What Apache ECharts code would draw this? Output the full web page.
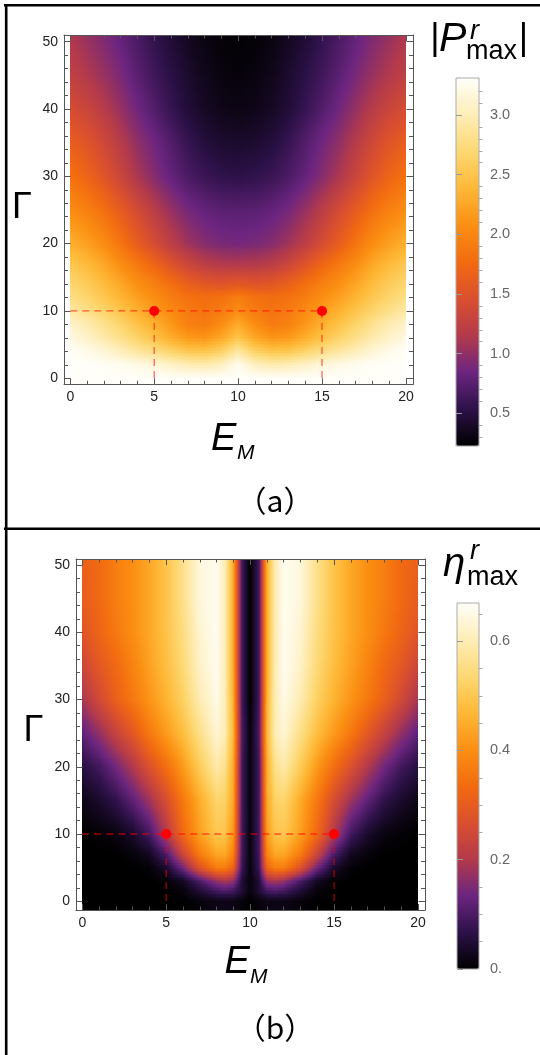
<!DOCTYPE html>
<html><head><meta charset="utf-8">
<script src="https://cdn.jsdelivr.net/npm/echarts@6/dist/echarts.min.js"></script>
<style>html,body{margin:0;padding:0;background:#fff}#c{width:540px;height:1055px}</style>
</head><body><div id="c"></div>
<script>
// ---------------- data ----------------
const xTickValues = [0, 5, 10, 15, 20];
const xMinorTicks = [1,2,3,4,6,7,8,9,11,12,13,14,16,17,18,19];
const yTickValues = [0, 10, 20, 30, 40, 50];
const yMinorTicks = [2,4,6,8,12,14,16,18,22,24,26,28,32,34,36,38,42,44,46,48];
const markedPoints = [[5, 10], [15, 10]];
const guideH = [[0, 10], [15, 10]];
const guideV1 = [[5, 10], [5, 0]];
const guideV2 = [[15, 10], [15, 0]];

// panel (a): |P^r_max|
const aColumns = [0,1,2,3,4,5,6,7,8,9,10,11,12,13,14,15,16,17,18,19,20];
const aRows = [0,2,4,6,8,10,12,14,17,20,25,30,35,40,45,50];
const aValues = [
 [3.30,3.30,3.30,3.30,3.30,3.30,3.30,3.30,3.30,3.30,3.30,3.30,3.30,3.30,3.30,3.30,3.30,3.30,3.30,3.30,3.30],
 [3.31,3.30,3.29,3.26,3.22,3.16,3.08,3.00,2.97,3.05,3.25,3.05,2.97,3.00,3.08,3.16,3.22,3.26,3.29,3.30,3.31],
 [3.29,3.24,3.14,3.02,2.90,2.78,2.65,2.52,2.50,2.62,2.90,2.62,2.50,2.52,2.65,2.78,2.90,3.02,3.14,3.24,3.29],
 [3.20,3.08,2.95,2.80,2.64,2.48,2.30,2.15,2.12,2.25,2.50,2.25,2.12,2.15,2.30,2.48,2.64,2.80,2.95,3.08,3.20],
 [3.08,2.98,2.82,2.65,2.48,2.32,2.14,1.95,1.90,2.05,2.28,2.05,1.90,1.95,2.14,2.32,2.48,2.65,2.82,2.98,3.08],
 [2.92,2.80,2.65,2.50,2.33,2.18,2.03,1.90,1.84,1.90,2.05,1.90,1.84,1.90,2.03,2.18,2.33,2.50,2.65,2.80,2.92],
 [2.78,2.66,2.52,2.36,2.20,2.06,1.92,1.82,1.78,1.82,1.92,1.82,1.78,1.82,1.92,2.06,2.20,2.36,2.52,2.66,2.78],
 [2.68,2.57,2.42,2.25,2.08,1.95,1.80,1.65,1.55,1.52,1.55,1.52,1.55,1.65,1.80,1.95,2.08,2.25,2.42,2.57,2.68],
 [2.52,2.40,2.25,2.05,1.88,1.70,1.50,1.32,1.20,1.15,1.14,1.15,1.20,1.32,1.50,1.70,1.88,2.05,2.25,2.40,2.52],
 [2.32,2.20,2.05,1.85,1.62,1.42,1.22,1.06,0.95,0.90,0.88,0.90,0.95,1.06,1.22,1.42,1.62,1.85,2.05,2.20,2.32],
 [2.05,1.95,1.80,1.60,1.40,1.20,1.02,0.88,0.80,0.76,0.75,0.76,0.80,0.88,1.02,1.20,1.40,1.60,1.80,1.95,2.05],
 [1.82,1.70,1.52,1.32,1.12,0.95,0.80,0.68,0.60,0.55,0.53,0.55,0.60,0.68,0.80,0.95,1.12,1.32,1.52,1.70,1.82],
 [1.63,1.52,1.36,1.18,1.00,0.86,0.72,0.58,0.48,0.43,0.41,0.43,0.48,0.58,0.72,0.86,1.00,1.18,1.36,1.52,1.63],
 [1.42,1.32,1.18,1.02,0.86,0.72,0.58,0.46,0.38,0.33,0.31,0.33,0.38,0.46,0.58,0.72,0.86,1.02,1.18,1.32,1.42],
 [1.25,1.15,1.03,0.90,0.76,0.63,0.52,0.42,0.34,0.29,0.27,0.29,0.34,0.42,0.52,0.63,0.76,0.90,1.03,1.15,1.25],
 [1.15,1.04,0.93,0.81,0.69,0.57,0.46,0.37,0.30,0.26,0.25,0.26,0.30,0.37,0.46,0.57,0.69,0.81,0.93,1.04,1.15]
];
const aBarTicks = [0.5, 1.0, 1.5, 2.0, 2.5, 3.0];
const aBarMinor = [0.3,0.4,0.6,0.7,0.8,0.9,1.1,1.2,1.3,1.4,1.6,1.7,1.8,1.9,2.1,2.2,2.3,2.4,2.6,2.7,2.8,2.9,3.1,3.2];

// panel (b): eta^r_max
const bColumns = [0,1,2,3,4,5,6,7,8,8.5,9,9.5,10,10.5,11,11.5,12,13,14,15,16,17,18,19,20];
const bRows = [0,1.5,3,5,7,10,15,20,25,30,35,40,45,50];
const bValues = [
 [0,0,0,0,0,0,0,0.01,0.02,0.02,0.02,0.01,0,0.01,0.02,0.02,0.02,0.01,0,0,0,0,0,0,0],
 [0,0,0,0,0,0,0.01,0.05,0.09,0.10,0.09,0.05,0.01,0.05,0.09,0.10,0.09,0.05,0.01,0,0,0,0,0,0],
 [0,0,0,0,0,0.005,0.03,0.10,0.17,0.19,0.17,0.05,0.01,0.05,0.17,0.19,0.17,0.10,0.03,0.005,0,0,0,0,0],
 [0,0,0,0,0.005,0.04,0.14,0.28,0.37,0.37,0.32,0.08,0.01,0.08,0.32,0.37,0.37,0.28,0.14,0.04,0.005,0,0,0,0],
 [0,0,0,0.01,0.03,0.10,0.24,0.37,0.44,0.44,0.38,0.09,0.01,0.09,0.38,0.44,0.44,0.37,0.24,0.10,0.03,0.01,0,0,0],
 [0,0.005,0.015,0.04,0.09,0.20,0.33,0.43,0.50,0.49,0.42,0.09,0.01,0.09,0.42,0.49,0.50,0.43,0.33,0.20,0.09,0.04,0.015,0.005,0],
 [0.02,0.04,0.07,0.12,0.18,0.26,0.36,0.45,0.53,0.52,0.44,0.09,0.01,0.09,0.44,0.52,0.53,0.45,0.36,0.26,0.18,0.12,0.07,0.04,0.02],
 [0.06,0.09,0.14,0.20,0.27,0.34,0.42,0.51,0.59,0.56,0.45,0.09,0.01,0.09,0.45,0.56,0.59,0.51,0.42,0.34,0.27,0.20,0.14,0.09,0.06],
 [0.12,0.17,0.23,0.29,0.36,0.42,0.48,0.56,0.63,0.60,0.47,0.10,0.01,0.10,0.47,0.60,0.63,0.56,0.48,0.42,0.36,0.29,0.23,0.17,0.12],
 [0.19,0.25,0.31,0.36,0.41,0.46,0.52,0.60,0.65,0.60,0.46,0.09,0,0.09,0.46,0.60,0.65,0.60,0.52,0.46,0.41,0.36,0.31,0.25,0.19],
 [0.24,0.29,0.33,0.38,0.43,0.48,0.54,0.62,0.66,0.60,0.45,0.09,0,0.09,0.45,0.60,0.66,0.62,0.54,0.48,0.43,0.38,0.33,0.29,0.24],
 [0.28,0.32,0.36,0.40,0.44,0.49,0.55,0.63,0.66,0.60,0.45,0.09,0,0.09,0.45,0.60,0.66,0.63,0.55,0.49,0.44,0.40,0.36,0.32,0.28],
 [0.30,0.33,0.37,0.40,0.44,0.49,0.56,0.64,0.66,0.60,0.45,0.09,0,0.09,0.45,0.60,0.66,0.64,0.56,0.49,0.44,0.40,0.37,0.33,0.30],
 [0.31,0.33,0.37,0.40,0.44,0.49,0.56,0.64,0.66,0.60,0.45,0.09,0,0.09,0.45,0.60,0.66,0.64,0.56,0.49,0.44,0.40,0.37,0.33,0.31]
];
const bBarTicks = [0, 0.2, 0.4, 0.6];
const bBarMinor = [0.05,0.1,0.15,0.25,0.3,0.35,0.45,0.5,0.55,0.65];

// ---------------- styling ----------------
const palette = ['#000000','#2c1148','#6c2580','#b33a4b','#da4f2e','#f26b10','#fb8f12','#feb836','#fdd872','#feedb7','#fffffa'];
const FONT = 'Liberation Sans';
const aBarRange = [0.226, 3.31], bBarRange = [0, 0.67];
const aRangeX = [-0.375, 20.42], aRangeY = [-0.9, 51];
const bRangeX = [-0.375, 20.42], bRangeY = [-1.3, 50.9];

function lerpColor(v, range) {
  let t = (v - range[0]) / (range[1] - range[0]);
  t = Math.max(0, Math.min(1, t));
  return echarts.color.lerp(t, palette);
}

// Shaded field: each data item is the patch between four neighbouring samples.
function makeField(cols, rows, vals, yLo, yHi, range) {
  const ys = [yLo].concat(rows, [yHi]);
  const vs = [vals[0]].concat(vals, [vals[vals.length - 1]]);
  const data = [];
  for (let i = 0; i < ys.length - 1; i++) {
    for (let j = 0; j < cols.length - 1; j++) {
      const m = (vs[i][j] + vs[i][j + 1] + vs[i + 1][j] + vs[i + 1][j + 1]) / 4;
      data.push([(cols[j] + cols[j + 1]) / 2, (ys[i] + ys[i + 1]) / 2, m, i, j]);
    }
  }
  function renderItem(params, api) {
    const i = api.value(3), j = api.value(4);
    const tl = api.coord([cols[j], ys[i + 1]]);
    const br = api.coord([cols[j + 1], ys[i]]);
    const x0 = Math.round(tl[0]), x1 = Math.round(br[0]);
    const yTop = tl[1], yBot = br[1];
    const H = yBot - yTop;
    const n = Math.max(1, Math.ceil(H / 1.5));
    const v00 = vs[i][j], v01 = vs[i][j + 1], v10 = vs[i + 1][j], v11 = vs[i + 1][j + 1];
    const children = [];
    for (let k = 0; k < n; k++) {
      const ya = Math.round(yTop + k * H / n), yb = Math.round(yTop + (k + 1) * H / n);
      if (yb <= ya) continue;
      const t = 1 - (k + 0.5) / n; // 0 at lower sample row, 1 at upper
      const vL = v00 * (1 - t) + v10 * t;
      const vR = v01 * (1 - t) + v11 * t;
      const stops = [];
      for (let q = 0; q <= 4; q++) {
        const f = q / 4;
        stops.push({ offset: f, color: lerpColor(vL * (1 - f) + vR * f, range) });
      }
      children.push({
        type: 'rect',
        shape: { x: x0, y: ya, width: x1 - x0, height: yb - ya },
        style: { fill: { type: 'linear', x: 0, y: 0, x2: 1, y2: 0, colorStops: stops } }
      });
    }
    return { type: 'group', children };
  }
  return { data, renderItem };
}

const frameColor = '#555';
const xAxes = [], yAxes = [], grids = [];
function plotGrid(gi, box, xr, yr) {
  grids.push(Object.assign({ show: false }, box));
  const mk = (pos, vals, len, showLine, showLabel, isX) => ({
    gridIndex: gi, type: 'value', min: isX ? xr[0] : yr[0], max: isX ? xr[1] : yr[1], position: pos, z: 6,
    axisLine: { show: showLine, onZero: false, lineStyle: { color: frameColor, width: 1 } },
    axisTick: { show: true, inside: true, length: len, customValues: vals, lineStyle: { color: frameColor, width: 1 } },
    axisLabel: showLabel ? { show: true, customValues: vals, margin: 6, color: '#222', fontSize: 14, fontFamily: FONT } : { show: false },
    splitLine: { show: false }
  });
  xAxes.push(mk('bottom', xTickValues, 6, true, true, true), mk('bottom', xMinorTicks, 3.5, false, false, true),
             mk('top', xTickValues, 6, true, false, true), mk('top', xMinorTicks, 3.5, false, false, true));
  yAxes.push(mk('left', yTickValues, 6.5, true, true, false), mk('left', yMinorTicks, 4, false, false, false),
             mk('right', yTickValues, 6.5, true, false, false), mk('right', yMinorTicks, 4, false, false, false));
}
function barGrid(gi, box, range, major, minor, fmt) {
  grids.push(Object.assign({ show: true, borderColor: '#aaa', borderWidth: 1, backgroundColor: 'transparent', z: 10 }, box));
  xAxes.push({ gridIndex: gi, type: 'value', min: 0, max: 1, show: false });
  const base = {
    gridIndex: gi, type: 'value', min: range[0], max: range[1], position: 'right', z: 10,
    axisLine: { show: false }, splitLine: { show: false }
  };
  yAxes.push(Object.assign({}, base, {
    axisTick: { show: true, inside: false, length: 6, customValues: major, lineStyle: { color: '#999' } },
    axisLabel: { show: true, customValues: major, margin: 11, color: '#666', fontSize: 14.5, fontFamily: FONT, formatter: fmt }
  }), Object.assign({}, base, {
    axisTick: { show: true, inside: false, length: 3.5, customValues: minor, lineStyle: { color: '#aaa' } },
    axisLabel: { show: false }
  }));
}

plotGrid(0, { left: 64, top: 35, width: 349, height: 349.3 }, aRangeX, aRangeY);   // x 0-3, y 0-3
plotGrid(1, { left: 76, top: 559, width: 349, height: 351 }, bRangeX, bRangeY);    // x 4-7, y 4-7
barGrid(2, { left: 456, top: 78, width: 23, height: 368 }, aBarRange, aBarTicks, aBarMinor, v => v.toFixed(1));
barGrid(3, { left: 457, top: 603, width: 22, height: 366 }, bBarRange, bBarTicks, bBarMinor, v => (v === 0 ? '0.' : v.toFixed(1)));

const guideStyle = { color: 'rgba(255,0,0,0.6)', width: 1.3, type: [7, 5] };
function panelSeries(xi, yi, field) {
  const s = [{
    type: 'custom', xAxisIndex: xi, yAxisIndex: yi, renderItem: field.renderItem, data: field.data,
    dimensions: ['x', 'y', 'v', 'i', 'j'], encode: { x: 0, y: 1 }, z: 2, silent: true, clip: false
  }];
  [guideH, guideV1, guideV2].forEach(g => s.push({
    type: 'line', xAxisIndex: xi, yAxisIndex: yi, data: g, symbol: 'none', z: 4, silent: true,
    lineStyle: guideStyle
  }));
  s.push({
    type: 'scatter', xAxisIndex: xi, yAxisIndex: yi, data: markedPoints, symbolSize: 10, z: 5, silent: true,
    itemStyle: { color: '#ff0000', opacity: 1 }
  });
  return s;
}
const series = [].concat(
  panelSeries(0, 0, makeField(aColumns, aRows, aValues, aRangeY[0], aRangeY[1], aBarRange)),
  panelSeries(4, 4, makeField(bColumns, bRows, bValues, bRangeY[0], bRangeY[1], bBarRange))
);

const txt = (text, x, y, font, align) => ({
  type: 'text', z: 20, silent: true,
  style: { text, x, y, font, textAlign: align || 'left', textVerticalAlign: 'middle', fill: '#000' }
});
const ln = (x1, y1, x2, y2) => ({ type: 'line', z: 20, silent: true, shape: { x1, y1, x2, y2 }, style: { stroke: '#000', lineWidth: 2.6 } });

const graphic = [
  ln(4, 5.3, 540, 5.3), ln(6.2, 4, 6.2, 1055), ln(4, 528.7, 540, 528.7),
  // panel (a)
  txt('Γ', 22, 208, '36px "' + FONT + '"', 'center'),
  txt('E', 211, 439, 'italic 38px "' + FONT + '"'),
  txt('M', 237, 453, 'italic 21px "' + FONT + '"'),
  txt('（a）', 275, 501, '30px "Noto Sans CJK SC"', 'center'),
  txt('|', 435, 39, '36px "' + FONT + '"', 'center'),
  txt('P', 439, 40, 'italic 41px "' + FONT + '"'),
  txt('r', 470, 31, 'italic 27px "' + FONT + '"'),
  txt('max', 466, 52, '27px "' + FONT + '"'),
  txt('|', 523.5, 39, '36px "' + FONT + '"', 'center'),
  // panel (b)
  txt('Γ', 33.5, 731, '36px "' + FONT + '"', 'center'),
  txt('E', 224.5, 962.5, 'italic 38px "' + FONT + '"'),
  txt('M', 250, 977, 'italic 21px "' + FONT + '"'),
  txt('（b）', 275, 1028, '30px "Noto Sans CJK SC"', 'center'),
  txt('η', 443, 565, 'italic 40px "' + FONT + '"'),
  txt('r', 470, 551, 'italic 27px "' + FONT + '"'),
  txt('max', 467, 578, '27px "' + FONT + '"')
];

const chart = echarts.init(document.getElementById('c'), null, { renderer: 'canvas' });
chart.setOption({
  animation: false,
  backgroundColor: '#fff',
  grid: grids,
  xAxis: xAxes,
  yAxis: yAxes,
  visualMap: [
    { type: 'continuous', seriesIndex: 0, dimension: 2, min: aBarRange[0], max: aBarRange[1], calculable: false,
      show: true, orient: 'vertical', left: 456, top: 78, itemWidth: 23, itemHeight: 368, padding: 0,
      inRange: { color: palette }, hoverLink: false, z: 4 },
    { type: 'continuous', seriesIndex: 5, dimension: 2, min: bBarRange[0], max: bBarRange[1], calculable: false,
      show: true, orient: 'vertical', left: 457, top: 603, itemWidth: 22, itemHeight: 366, padding: 0,
      inRange: { color: palette }, hoverLink: false, z: 4 }
  ],
  graphic: graphic,
  series: series
});
</script></body></html>
